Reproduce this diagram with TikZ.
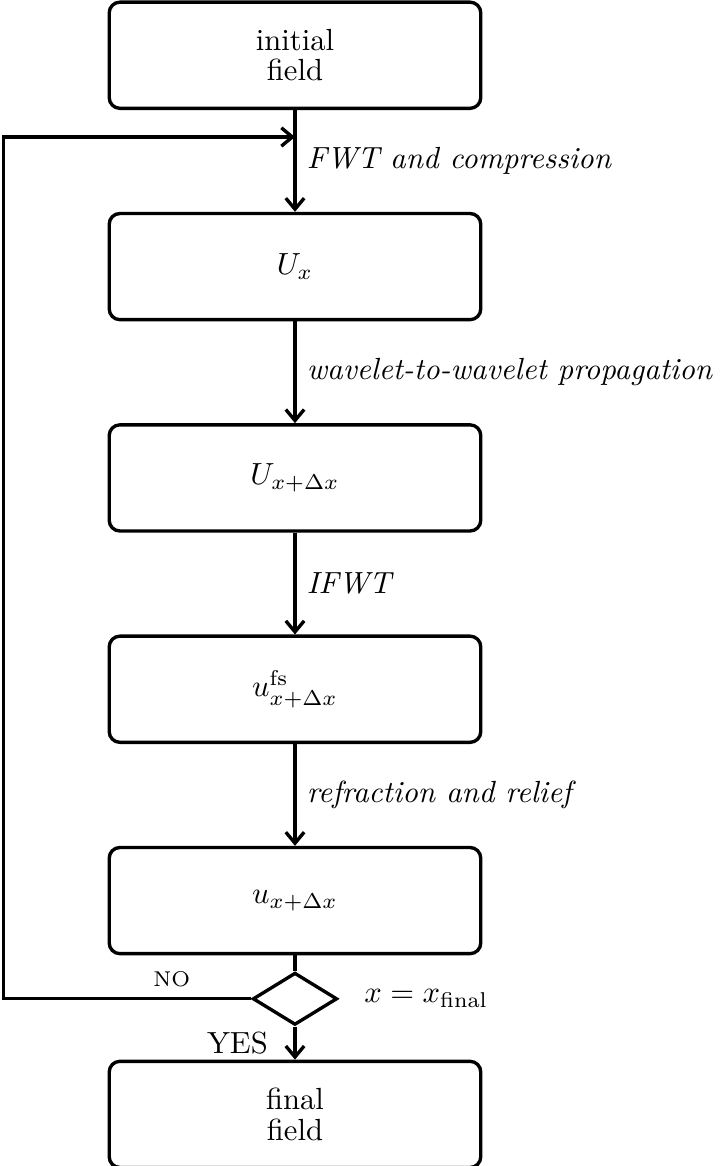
\documentclass[tikz,border=0pt]{standalone}
\usepackage{amsmath}
\usetikzlibrary{positioning,shapes.geometric,calc,arrows.meta}
\begin{document}
\begin{tikzpicture}[
  box/.style={draw,line width=1.1pt,rounded corners=3.5pt,minimum width=4.27cm,minimum height=1.22cm,align=center},
  cond/.style={draw,line width=1.1pt,diamond,inner sep=0pt,minimum width=0.97cm,minimum height=0.6cm},
  flow/.style={line width=1.1pt,-{Straight Barb[length=3.6pt,width=6pt]}},
  node distance=1.17cm]
\useasboundingbox (0,0) rectangle (8.28,-13.40);
\node[box] (init) at (3.39,-0.635) {initial\\[-2pt]field};
\node[box,below=of init] (Ux) {$U_x$};
\node[box,below=of Ux] (Udx) {$U_{x+\Delta x}$};
\node[box,below=of Udx] (ufs) {$u^{\mathrm{fs}}_{x+\Delta x}$};
\node[box,below=of ufs] (udx) {$u_{x+\Delta x}$};
\node[cond,below=0.18cm of udx] (test) {};
\node[box,below=0.38cm of test] (final) {final\\[-2pt]field};
\node[right=0.17cm of test] (testlbl) {$x=x_{\text{final}}$};
\coordinate (edge) at (0.04,0);
\coordinate (join) at ([yshift=-0.31cm]init.south);
% main chain
\draw[flow] (init) -- node[right]{\textit{FWT and compression}} (Ux);
\draw[flow] (Ux) -- node[right]{\textit{wavelet-to-wavelet propagation}} (Udx);
\draw[flow] (Udx) -- node[right]{\textit{IFWT}} (ufs);
\draw[flow] (ufs) -- node[right]{\textit{refraction and relief}} (udx);
\draw[line width=1.1pt] (udx) -- (test);
\draw[flow] (test) -- node[left,xshift=-5pt]{YES} (final);
% loop back
\draw[flow] (test.west) -- node[above,pos=0.32,font=\scriptsize]{NO} (test.west -| edge) |- (join);
\end{tikzpicture}
\end{document}
